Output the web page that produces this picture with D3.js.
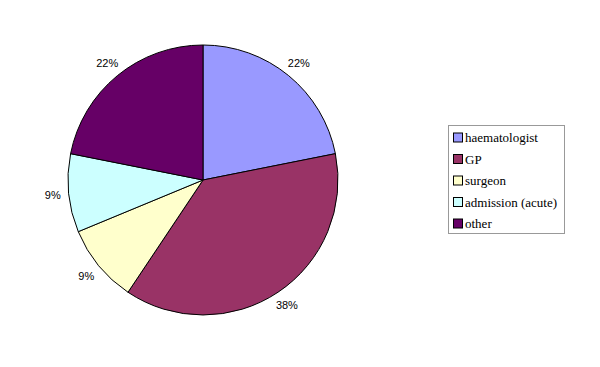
<!DOCTYPE html>
<html>
<head>
<meta charset="utf-8">
<script src="https://cdn.jsdelivr.net/npm/d3@7"></script>
<style>
  body { margin: 0; background: #fff; }
  .pct { font-family: "Liberation Sans", Arial, sans-serif; font-size: 11px; }
  .leg { font-family: "Liberation Serif", "DejaVu Serif", "Times New Roman", Times, serif; font-size: 13px; }
</style>
</head>
<body>
<svg id="chart"></svg>
<script>
// Referrer categories and counts
const categories = ["haematologist", "GP", "surgeon", "admission (acute)", "other"];
const counts = [7, 12, 3, 3, 7];
const colors = ["#9999FF", "#993366", "#FFFFCC", "#CCFFFF", "#660066"];

const width = 600;
const height = 367;
const cx = 203, cy = 180, radius = 135;

const svg = d3.select("#chart").attr("width", width).attr("height", height);

const data = categories.map((c, i) => ({ name: c, value: counts[i], color: colors[i] }));
const total = d3.sum(counts);

const pie = d3.pie().sort(null).value((d) => d.value);
const arc = d3.arc().innerRadius(0).outerRadius(radius);
const labelArc = d3.arc().innerRadius(151).outerRadius(151);

const g = svg.append("g").attr("transform", `translate(${cx},${cy})`);

g.selectAll("path")
    .data(pie(data))
    .enter()
    .append("path")
    .attr("d", arc)
    .attr("fill", (d) => d.data.color)
    .attr("stroke", "#000")
    .attr("stroke-width", 1);

g.selectAll("text")
    .data(pie(data))
    .enter()
    .append("text")
    .attr("class", "pct")
    .attr("transform", (d) => `translate(${labelArc.centroid(d)})`)
    .attr("text-anchor", "middle")
    .attr("dy", "0.35em")
    .attr("fill", "#000")
    .text((d) => Math.round((d.data.value / total) * 100) + "%");

// Legend
const legend = svg.append("g").attr("transform", "translate(448,125)");
legend.append("rect")
    .attr("x", 0.5)
    .attr("y", 0.5)
    .attr("width", 116)
    .attr("height", 108)
    .attr("fill", "#fff")
    .attr("stroke", "#999")
    .attr("stroke-width", 1);

const rows = legend.selectAll("g.row")
    .data(data)
    .enter()
    .append("g")
    .attr("class", "row")
    .attr("transform", (d, i) => `translate(5,${12.5 + i * 21.5})`);

rows.append("rect")
    .attr("x", 0.5)
    .attr("y", -4.5)
    .attr("width", 9)
    .attr("height", 9)
    .attr("fill", (d) => d.color)
    .attr("stroke", "#000");

rows.append("text")
    .attr("class", "leg")
    .attr("x", 12)
    .attr("dy", "0.35em")
    .attr("fill", "#000")
    .text((d) => d.name);
</script>
</body>
</html>
